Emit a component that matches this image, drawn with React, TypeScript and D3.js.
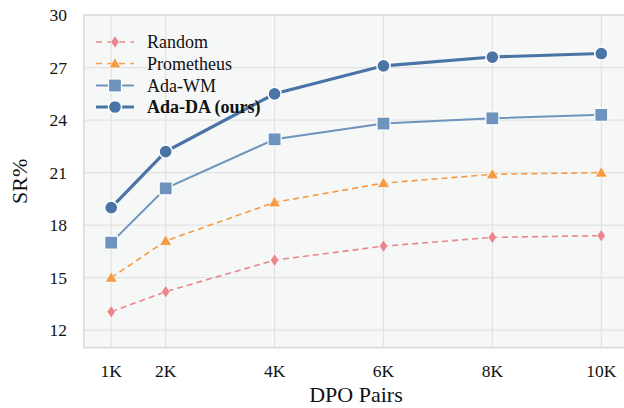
import { useEffect, useRef } from 'react';
import * as d3 from 'd3';

const pairs = [1, 2, 4, 6, 8, 10];
const xTickLabels = ['1K', '2K', '4K', '6K', '8K', '10K'];
const yTicks = [12, 15, 18, 21, 24, 27, 30];

const randomSR = [13.05, 14.2, 16.0, 16.8, 17.3, 17.4];
const prometheusSR = [15.0, 17.1, 19.3, 20.4, 20.9, 21.0];
const adaWMSR = [17.0, 20.1, 22.9, 23.8, 24.1, 24.3];
const adaDASR = [19.0, 22.2, 25.5, 27.1, 27.6, 27.8];

const series = [
  { name: 'Random', values: randomSR, color: '#e9868b', width: 1.6, dash: '6,4', marker: 'diamond', bold: false },
  { name: 'Prometheus', values: prometheusSR, color: '#f59b45', width: 1.6, dash: '6,4', marker: 'triangle', bold: false },
  { name: 'Ada-WM', values: adaWMSR, color: '#6e94bd', width: 2, dash: null, marker: 'square', bold: false },
  { name: 'Ada-DA (ours)', values: adaDASR, color: '#4a74a6', width: 3.2, dash: null, marker: 'circle', bold: true },
];

const FONT = '"Liberation Serif", "DejaVu Serif", serif';

export default function App() {
  const svgRef = useRef<SVGSVGElement>(null);
  const width = 624;
  const height = 408;

  useEffect(() => {
    const svg = d3.select(svgRef.current);
    svg.selectAll('*').remove();

    const left = 84, top = 15, right = 628.5, bottom = 347.7;

    const x = d3.scaleLinear().domain([0.5, 10.5]).range([left, right]);
    const y = d3.scaleLinear().domain([11, 30]).range([bottom, top]);

    svg.append('rect')
      .attr('x', left).attr('y', top)
      .attr('width', right - left).attr('height', bottom - top)
      .attr('fill', '#f6f8f8')
      .attr('stroke', '#d8d8d8')
      .attr('stroke-width', 1.5);

    const grid = svg.append('g');
    pairs.forEach(p => {
      grid.append('line')
        .attr('x1', x(p)).attr('x2', x(p))
        .attr('y1', top).attr('y2', bottom)
        .attr('stroke', '#e2e2e2').attr('stroke-width', 1.2);
    });
    yTicks.forEach(t => {
      grid.append('line')
        .attr('x1', left).attr('x2', right)
        .attr('y1', y(t)).attr('y2', y(t))
        .attr('stroke', '#e2e2e2').attr('stroke-width', 1.2);
    });

    // tick labels
    pairs.forEach((p, i) => {
      svg.append('text')
        .attr('x', x(p)).attr('y', 377)
        .attr('text-anchor', 'middle')
        .style('font-family', FONT).style('font-size', '17.5px')
        .attr('fill', '#111')
        .text(xTickLabels[i]);
    });
    yTicks.forEach(t => {
      svg.append('text')
        .attr('x', 67).attr('y', y(t))
        .attr('text-anchor', 'end')
        .attr('dominant-baseline', 'central')
        .style('font-family', FONT).style('font-size', '17.5px')
        .attr('fill', '#111')
        .text(String(t));
    });

    svg.append('text')
      .attr('x', (left + 624) / 2 + 2).attr('y', 402)
      .attr('text-anchor', 'middle')
      .style('font-family', FONT).style('font-size', '22px')
      .attr('fill', '#111')
      .text('DPO Pairs');

    svg.append('text')
      .attr('transform', `translate(27,${(top + bottom) / 2}) rotate(-90)`)
      .attr('text-anchor', 'middle')
      .style('font-family', FONT).style('font-size', '22px')
      .attr('fill', '#111')
      .text('SR%');

    const drawMarker = (g: any, kind: string, cx: number, cy: number, color: string, legend = false) => {
      if (kind === 'circle') {
        g.append('circle').attr('cx', cx).attr('cy', cy).attr('r', 6.6)
          .attr('fill', color).attr('stroke', '#fff').attr('stroke-width', 1.5);
      } else if (kind === 'square') {
        const s = 13;
        g.append('rect').attr('x', cx - s / 2).attr('y', cy - s / 2).attr('width', s).attr('height', s)
          .attr('fill', color).attr('stroke', '#fff').attr('stroke-width', 1.2);
      } else if (kind === 'triangle') {
        const sym = d3.symbol().type(d3.symbolTriangle).size(legend ? 58 : 62);
        g.append('path').attr('d', sym()).attr('transform', `translate(${cx},${cy + 1})`)
          .attr('fill', color).attr('stroke', '#fff').attr('stroke-width', 0.6);
      } else {
        const sym = d3.symbol().type(d3.symbolDiamond).size(46);
        g.append('path').attr('d', sym()).attr('transform', `translate(${cx},${cy}) scale(1.15,1)`)
          .attr('fill', color).attr('stroke', '#fff').attr('stroke-width', 0.6);
      }
    };

    const line = d3.line<number>()
      .x((_, i) => x(pairs[i]))
      .y(d => y(d));

    series.forEach(s => {
      const g = svg.append('g');
      g.append('path')
        .datum(s.values)
        .attr('d', line)
        .attr('fill', 'none')
        .attr('stroke', s.color)
        .attr('stroke-width', s.width)
        .attr('stroke-dasharray', s.dash)
        .attr('stroke-linecap', 'butt');
      s.values.forEach((v, i) => drawMarker(g, s.marker, x(pairs[i]), y(v), s.color));
    });

    // legend
    const legend = svg.append('g');
    const rowY = [42, 63.5, 85.5, 107];
    series.forEach((s, i) => {
      const ly = rowY[i];
      legend.append('line')
        .attr('x1', 96).attr('x2', 134)
        .attr('y1', ly).attr('y2', ly)
        .attr('stroke', s.color)
        .attr('stroke-width', s.width)
        .attr('stroke-dasharray', s.dash ? '6,5.5' : null);
      drawMarker(legend, s.marker, 115, ly, s.color, true);
      legend.append('text')
        .attr('x', 147).attr('y', ly)
        .attr('dominant-baseline', 'central')
        .style('font-family', FONT).style('font-size', '18px')
        .style('font-weight', s.bold ? '700' : '400')
        .attr('fill', '#111')
        .text(s.name);
    });
  }, []);

  return (
    <svg ref={svgRef} width={width} height={height}
      style={{ position: 'absolute', left: 0, top: 0, background: '#fff' }} />
  );
}
